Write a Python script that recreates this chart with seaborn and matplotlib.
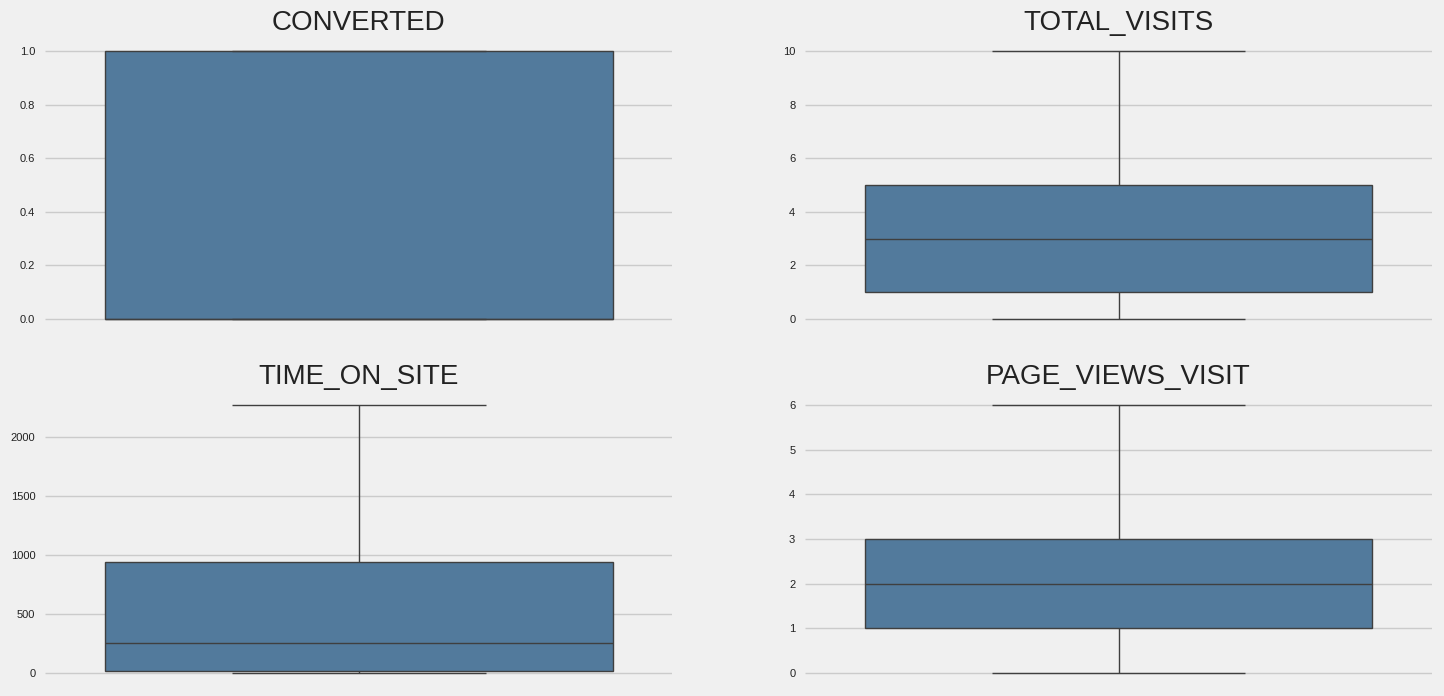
import matplotlib
matplotlib.use("Agg")
import matplotlib.pyplot as plt
import seaborn as sns

# values chosen so each box shows the quartiles
converted = [0, 0, 0, 1, 1]
total_visits = [0, 1, 3, 5, 10]
time_on_site = [0, 18, 254, 941, 2273]
page_views_visit = [0, 1, 2, 3, 6]

columns = ["CONVERTED", "TOTAL_VISITS", "TIME_ON_SITE", "PAGE_VIEWS_VISIT"]
series = [converted, total_visits, time_on_site, page_views_visit]

plt.style.use("fivethirtyeight")
plt.rcParams["font.family"] = ["Liberation Sans", "DejaVu Sans"]
fig, axes = plt.subplots(2, 2, figsize=(14.44, 6.96), dpi=100)
fig.patch.set_facecolor("#f0f0f0")
plt.subplots_adjust(left=0.0312, right=0.9917, bottom=0.0138, top=0.946,
                    wspace=0.212, hspace=0.2)

for ax, name, vals in zip(axes.flat, columns, series):
    ax.set_facecolor("#f0f0f0")
    sns.boxplot(y=vals, ax=ax, color="#527a9c", saturation=1, width=0.81,
                linewidth=1, linecolor="#3f3f3f")
    ax.set_title(name, fontsize=20, color="#222222", pad=5.5)
    ax.set_ylabel("")
    ax.set_xlabel("")
    ax.set_xticks([])
    ax.grid(axis="x", visible=False)
    ax.grid(axis="y", color="#cbcbcb", linewidth=1)
    ax.tick_params(axis="y", labelsize=8, colors="#222222", length=0, pad=7)
    for s in ax.spines.values():
        s.set_visible(False)

axes[0, 0].set_yticks([0.0, 0.2, 0.4, 0.6, 0.8, 1.0])
axes[0, 1].set_yticks([0, 2, 4, 6, 8, 10])
axes[1, 0].set_yticks([0, 500, 1000, 1500, 2000])
axes[1, 1].set_yticks([0, 1, 2, 3, 4, 5, 6])

fig.savefig("out.png", dpi=100, facecolor=fig.get_facecolor())
